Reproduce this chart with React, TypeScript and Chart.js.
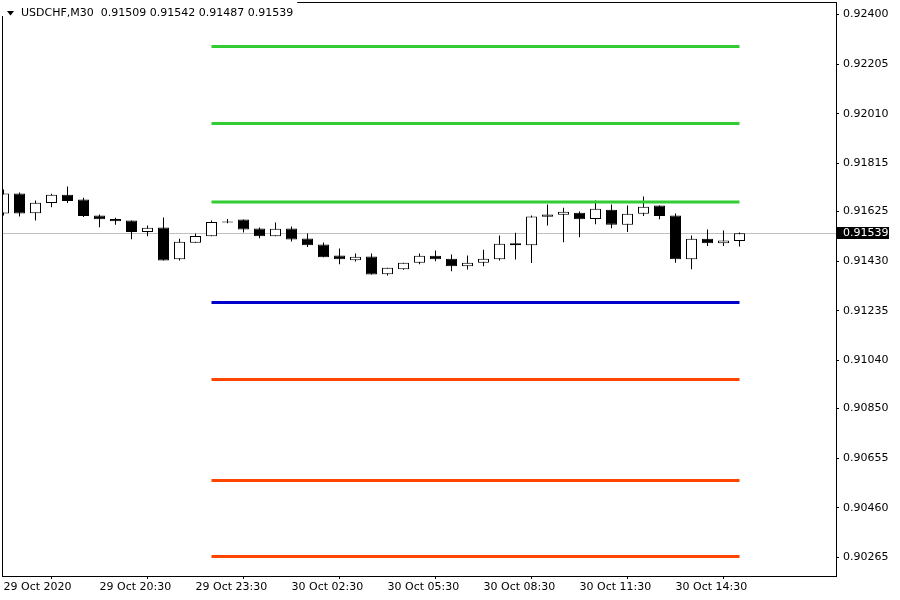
import React, { useEffect, useRef } from 'react';
import { Chart, registerables } from 'chart.js';

Chart.register(...registerables);

const SYMBOL = 'USDCHF,M30';

const opens = [
  0.91617, 0.91696, 0.91618, 0.91658, 0.91691, 0.91672, 0.91609, 0.91596, 0.91590, 0.91544,
  0.91562, 0.91437, 0.91502, 0.91528, 0.91582, 0.91594, 0.91558, 0.91528, 0.91558, 0.91519,
  0.91495, 0.91452, 0.91433, 0.91448, 0.91378, 0.91398, 0.91423, 0.91451, 0.91439, 0.91410,
  0.91423, 0.91437, 0.91500, 0.91492, 0.91604, 0.91612, 0.91620, 0.91596, 0.91632, 0.91573,
  0.91616, 0.91649, 0.91609, 0.91437, 0.91518, 0.91500, 0.91509,
];
const highs = [
  0.91712, 0.91700, 0.91668, 0.91695, 0.91723, 0.91679, 0.91613, 0.91600, 0.91590, 0.91570,
  0.91601, 0.91518, 0.91538, 0.91590, 0.91596, 0.91594, 0.91562, 0.91582, 0.91566, 0.91538,
  0.91503, 0.91479, 0.91460, 0.91460, 0.91404, 0.91423, 0.91460, 0.91472, 0.91456, 0.91452,
  0.91475, 0.91531, 0.91541, 0.91609, 0.91653, 0.91640, 0.91625, 0.91668, 0.91653, 0.91649,
  0.91684, 0.91649, 0.91617, 0.91531, 0.91554, 0.91550, 0.91542,
];
const lows = [
  0.91609, 0.91605, 0.91590, 0.91642, 0.91658, 0.91603, 0.91563, 0.91573, 0.91516, 0.91528,
  0.91432, 0.91432, 0.91502, 0.91528, 0.91579, 0.91542, 0.91520, 0.91528, 0.91507, 0.91485,
  0.91445, 0.91418, 0.91428, 0.91377, 0.91373, 0.91396, 0.91418, 0.91429, 0.91390, 0.91397,
  0.91410, 0.91432, 0.91436, 0.91422, 0.91570, 0.91504, 0.91524, 0.91575, 0.91559, 0.91544,
  0.91607, 0.91595, 0.91423, 0.91398, 0.91489, 0.91489, 0.91487,
];
const closes = [
  0.91696, 0.91617, 0.91659, 0.91691, 0.91666, 0.91607, 0.91595, 0.91587, 0.91544, 0.91561,
  0.91432, 0.91506, 0.91529, 0.91584, 0.91584, 0.91554, 0.91528, 0.91557, 0.91515, 0.91492,
  0.91445, 0.91437, 0.91447, 0.91377, 0.91404, 0.91423, 0.91451, 0.91437, 0.91410, 0.91423,
  0.91439, 0.91498, 0.91492, 0.91605, 0.91613, 0.91624, 0.91595, 0.91636, 0.91573, 0.91616,
  0.91644, 0.91607, 0.91437, 0.91518, 0.91500, 0.91511, 0.91539,
];

const xTickIndex = [0, 6, 12, 18, 24, 30, 36, 42];
const xTickLabels = [
  '29 Oct 2020', '29 Oct 20:30', '29 Oct 23:30', '30 Oct 02:30',
  '30 Oct 05:30', '30 Oct 08:30', '30 Oct 11:30', '30 Oct 14:30',
];
const yTickValues = [
  0.924, 0.92205, 0.9201, 0.91815, 0.91625, 0.9143,
  0.91235, 0.9104, 0.9085, 0.90655, 0.9046, 0.90265,
];

const pivotStartIndex = 13;
const pivotLevels = [0.92274, 0.91971, 0.91662, 0.91267, 0.90964, 0.90567, 0.90268];
const pivotColors = ['#32CD32', '#32CD32', '#32CD32', '#0000CD', '#FF4500', '#FF4500', '#FF4500'];

const X_MIN = -0.09375;
const X_MAX = 52.03125;
const Y_MIN = 0.901911;
const Y_MAX = 0.924492;

const FONT = 'DejaVu Sans';

export default function App() {
  const ref = useRef<HTMLCanvasElement>(null);

  useEffect(() => {
    const canvas = ref.current;
    if (!canvas) return;
    const last = closes.length - 1;
    const fmt = (v: number) => v.toFixed(5);

    const idx = closes.map((_, i) => i);
    const bodyColors = idx.map((i) => (closes[i] >= opens[i] ? '#FFFFFF' : '#000000'));

    const mtPlugin = {
      id: 'mt4',
      beforeDraw(chart: any) {
        const { ctx, width, height } = chart;
        ctx.save();
        ctx.fillStyle = '#FFFFFF';
        ctx.fillRect(0, 0, width, height);
        ctx.restore();
      },
      beforeDatasetsDraw(chart: any) {
        const { ctx, chartArea, scales } = chart;
        const y = Math.round(scales.y.getPixelForValue(closes[last])) + 0.5;
        ctx.save();
        ctx.strokeStyle = '#C0C0C0';
        ctx.lineWidth = 1;
        ctx.beginPath();
        ctx.moveTo(chartArea.left, y);
        ctx.lineTo(chartArea.right, y);
        ctx.stroke();
        ctx.restore();
      },
      afterDraw(chart: any) {
        const { ctx, chartArea, scales } = chart;
        ctx.save();
        // frame
        ctx.strokeStyle = '#000000';
        ctx.lineWidth = 1;
        ctx.strokeRect(
          chartArea.left + 0.5,
          chartArea.top + 0.5,
          chartArea.right - chartArea.left,
          chartArea.bottom - chartArea.top
        );
        // current price box
        const yc = Math.round(scales.y.getPixelForValue(closes[last]));
        ctx.fillStyle = '#000000';
        ctx.fillRect(chartArea.right + 1, yc - 6, 52, 12);
        ctx.fillStyle = '#FFFFFF';
        ctx.font = `11px "${FONT}"`;
        ctx.textBaseline = 'middle';
        ctx.textAlign = 'left';
        ctx.fillText(fmt(closes[last]), chartArea.right + 7, yc + 0.5);
        // header
        const header = `${SYMBOL}  ${fmt(opens[last])} ${fmt(highs[last])} ${fmt(lows[last])} ${fmt(closes[last])}`;
        ctx.font = `11px "${FONT}"`;
        const w = ctx.measureText(header).width;
        ctx.fillStyle = '#FFFFFF';
        ctx.fillRect(0, 0, 21 + w + 4, 16);
        ctx.fillStyle = '#000000';
        ctx.beginPath();
        ctx.moveTo(7, 11);
        ctx.lineTo(14, 11);
        ctx.lineTo(10.5, 15.5);
        ctx.closePath();
        ctx.fill();
        ctx.textBaseline = 'alphabetic';
        ctx.fillStyle = '#000000';
        ctx.fillText(header, 21, 16);
        ctx.restore();
      },
    };

    const chart = new Chart(canvas, {
      type: 'bar',
      data: {
        datasets: [
          ...pivotLevels.map((lvl, k) => ({
            type: 'line' as const,
            data: [
              { x: pivotStartIndex, y: lvl },
              { x: last, y: lvl },
            ],
            borderColor: pivotColors[k],
            borderWidth: 3,
            pointRadius: 0,
            fill: false,
            order: 0,
          })),
          {
            type: 'bar' as const,
            data: idx.map((i) => ({ x: i, y: [opens[i], closes[i]] })),
            backgroundColor: bodyColors,
            borderColor: '#000000',
            borderWidth: 1,
            borderSkipped: false,
            barThickness: 11,
            maxBarThickness: 11,
            minBarLength: 1,
            grouped: false,
            inflateAmount: 0,
            clip: 0,
            order: 1,
          },
          {
            type: 'bar' as const,
            data: idx.map((i) => ({ x: i, y: [lows[i], highs[i]] })),
            backgroundColor: '#000000',
            borderWidth: 0,
            barThickness: 1,
            maxBarThickness: 1,
            grouped: false,
            inflateAmount: 0,
            clip: 0,
            order: 2,
          },
        ] as any,
      },
      options: {
        responsive: false,
        animation: false,
        devicePixelRatio: 1,
        layout: { padding: { left: 2, top: 2, right: 0, bottom: 0 } },
        plugins: {
          legend: { display: false },
          tooltip: { enabled: false },
          title: { display: false },
        },
        events: [],
        scales: {
          x: {
            type: 'linear',
            min: X_MIN,
            max: X_MAX,
            offset: false,
            position: 'bottom',
            border: { display: false },
            grid: {
              display: true,
              drawOnChartArea: false,
              drawTicks: true,
              tickLength: 3,
              color: '#000000',
            },
            ticks: {
              autoSkip: false,
              maxRotation: 0,
              minRotation: 0,
              align: 'start',
              padding: 2,
              color: '#000000',
              font: { family: FONT, size: 11 },
              callback: (v: any) => {
                const k = xTickIndex.indexOf(Number(v));
                return k >= 0 ? xTickLabels[k] : '';
              },
            },
            afterBuildTicks: (scale: any) => {
              scale.ticks = xTickIndex.map((v) => ({ value: v }));
            },
            afterFit: (scale: any) => {
              scale.height = 24;
              scale.paddingLeft = 0;
              scale.paddingRight = 0;
              scale.paddingTop = 0;
              scale.paddingBottom = 0;
            },
          },
          y: {
            type: 'linear',
            position: 'right',
            min: Y_MIN,
            max: Y_MAX,
            border: { display: false },
            grid: {
              display: true,
              drawOnChartArea: false,
              drawTicks: true,
              tickLength: 3,
              color: '#000000',
            },
            ticks: {
              autoSkip: false,
              padding: 4,
              color: '#000000',
              font: { family: FONT, size: 11 },
              callback: (v: any) => Number(v).toFixed(5),
            },
            afterBuildTicks: (scale: any) => {
              scale.ticks = yTickValues.map((v) => ({ value: v }));
            },
            afterFit: (scale: any) => {
              scale.width = 64;
              scale.paddingLeft = 0;
              scale.paddingRight = 0;
              scale.paddingTop = 0;
              scale.paddingBottom = 0;
            },
          },
        },
      } as any,
      plugins: [mtPlugin],
    });

    return () => {
      chart.destroy();
    };
  }, []);

  return (
    <div style={{ position: 'fixed', left: 0, top: 0, width: 900, height: 600, background: '#FFFFFF' }}>
      <canvas ref={ref} width={900} height={600} style={{ display: 'block', width: 900, height: 600 }} />
    </div>
  );
}
